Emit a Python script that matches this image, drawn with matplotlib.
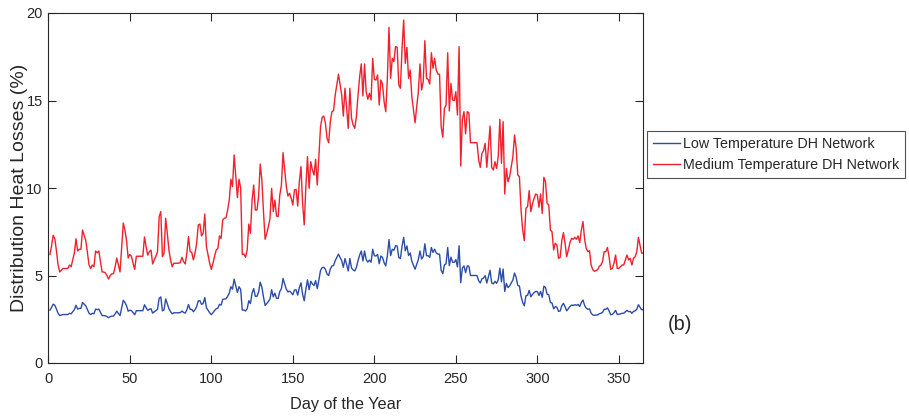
import matplotlib
matplotlib.use("Agg")
import matplotlib.pyplot as plt
from matplotlib import font_manager

# ---------------- data ----------------
days = list(range(1, 366))

medium_temp = [
    6.2, 6.7, 7.3, 7.1, 6.4, 5.6, 5.2, 5.3, 5.4, 5.4,
    5.4, 5.4, 5.6, 5.5, 5.9, 6.3, 7.1, 6.4, 6.5, 6.5,
    7.6, 7.3, 7.0, 6.3, 5.6, 5.4, 5.6, 5.5, 6.4, 6.3,
    6.4, 5.8, 5.2, 5.2, 5.15, 5.0, 4.8, 5.0, 5.1, 5.1,
    5.5, 6.0, 5.6, 5.2, 6.6, 8.0, 7.6, 7.0, 6.0, 6.2,
    6.1, 5.7, 5.35, 6.1, 6.1, 6.1, 6.1, 6.1, 7.2, 6.65,
    6.17, 6.36, 6.45, 5.66, 5.9, 6.1, 6.36, 8.36, 8.65, 6.08,
    6.27, 8.27, 7.4, 6.45, 5.89, 5.5, 5.7, 5.7, 5.7, 5.7,
    5.75, 6.04, 5.79, 5.66, 6.27, 7.22, 6.36, 6.32, 5.89, 6.27,
    6.84, 7.89, 7.94, 7.26, 7.41, 8.51, 6.65, 6.17, 5.7, 5.35,
    5.7, 6.11, 6.45, 6.55, 7.26, 7.12, 8.17, 8.27, 8.3, 8.74,
    9.31, 10.5, 10.08, 11.89, 10.65, 9.45, 10.5, 10.0, 6.2, 6.23,
    6.04, 6.46, 7.94, 7.41, 9.31, 10.17, 8.74, 8.74, 9.5, 11.37,
    10.46, 8.65, 7.07, 7.41, 7.79, 8.27, 9.98, 8.65, 9.31, 8.4,
    8.36, 9.6, 10.17, 12.02, 11.03, 10.08, 9.54, 9.7, 9.41, 9.03,
    9.89, 9.92, 8.97, 10.36, 11.22, 9.12, 7.89, 10.08, 11.79, 9.98,
    11.5, 11.03, 10.74, 11.64, 10.17, 11.79, 13.5, 14.04, 14.11, 13.7,
    12.84, 12.59, 13.79, 14.36, 14.42, 15.31, 15.89, 16.5, 15.9, 15.3,
    14.11, 15.7, 14.6, 13.41, 15.7, 13.98, 13.6, 13.41, 14.08, 15.31,
    16.36, 17.09, 15.26, 17.09, 15.5, 15.07, 15.41, 15.03, 17.41, 16.21,
    16.17, 16.46, 14.74, 16.17, 15.94, 14.93, 14.36, 16.27, 19.18, 16.27,
    17.41, 17.22, 18.08, 18.04, 15.89, 15.7, 17.98, 19.6, 17.12, 18.04,
    16.27, 16.74, 15.22, 14.46, 13.73, 14.65, 15.5, 17.09, 15.6, 16.08,
    18.42, 16.27, 16.21, 15.94, 17.73, 16.84, 17.41, 16.74, 16.51, 16.5,
    13.5, 12.9, 14.55, 14.74, 17.73, 14.4, 15.98, 15.03, 14.99, 15.5,
    14.17, 18.08, 11.26, 13.92, 14.36, 13.09, 14.36, 14.3, 12.59, 12.59,
    12.59, 12.59, 12.59, 11.6, 11.18, 11.98, 12.13, 12.55, 11.18, 12.36,
    13.54, 11.18, 11.03, 11.5, 11.12, 11.79, 13.92, 11.41, 13.79, 9.66,
    11.12, 10.36, 10.65, 11.22, 11.79, 13.03, 12.27, 10.74, 10.65, 8.74,
    7.6, 6.99, 8.84, 8.93, 9.85, 8.65, 9.09, 9.41, 9.66, 9.6,
    8.9, 9.66, 8.55, 10.61, 10.36, 9.12, 9.03, 7.6, 7.5, 6.46,
    6.84, 6.74, 5.98, 6.04, 6.99, 7.45, 6.84, 6.08, 6.46, 6.88,
    7.12, 7.07, 7.18, 7.07, 7.26, 6.88, 7.6, 8.08, 7.07, 6.55,
    6.36, 6.42, 5.6, 5.33, 5.24, 5.28, 5.33, 5.52, 5.6, 5.79,
    6.36, 6.36, 6.6, 6.08, 5.35, 5.41, 5.7, 6.17, 5.41, 5.41,
    5.5, 5.6, 5.6, 5.89, 6.17, 5.89, 5.98, 5.6, 5.98, 6.08,
    6.36, 7.18, 6.74, 6.27, 6.3,
]

low_temp = [
    3.02, 3.18, 3.36, 3.30, 3.08, 2.84, 2.71, 2.74, 2.77, 2.77,
    2.77, 2.77, 2.84, 2.81, 2.93, 3.05, 3.30, 3.08, 3.12, 3.12,
    3.46, 3.36, 3.27, 3.05, 2.84, 2.77, 2.84, 2.81, 3.08, 3.05,
    3.08, 2.90, 2.71, 2.71, 2.70, 2.65, 2.59, 2.65, 2.68, 2.68,
    2.81, 2.96, 2.84, 2.71, 3.15, 3.58, 3.46, 3.27, 2.96, 3.02,
    2.99, 2.87, 2.76, 2.99, 2.99, 2.99, 2.99, 2.99, 3.33, 3.16,
    3.01, 3.07, 3.10, 2.85, 2.93, 2.99, 3.07, 3.69, 3.78, 2.98,
    3.04, 3.66, 3.39, 3.10, 2.93, 2.81, 2.87, 2.87, 2.87, 2.87,
    2.88, 2.97, 2.89, 2.85, 3.04, 3.34, 3.07, 3.06, 2.93, 3.04,
    3.22, 3.55, 3.56, 3.35, 3.40, 3.74, 3.16, 3.01, 2.87, 2.76,
    2.87, 3.00, 3.10, 3.13, 3.35, 3.31, 3.63, 3.66, 3.67, 3.81,
    3.99, 4.36, 4.22, 4.79, 4.40, 4.03, 4.36, 4.20, 3.02, 3.03,
    2.97, 3.10, 3.56, 3.40, 3.99, 4.25, 3.81, 3.81, 4.05, 4.62,
    4.34, 3.78, 3.29, 3.40, 3.51, 3.66, 4.19, 3.78, 3.99, 3.70,
    3.69, 4.08, 4.25, 4.83, 4.52, 4.22, 4.06, 4.11, 4.02, 3.90,
    4.17, 4.18, 3.88, 4.31, 4.58, 3.93, 3.55, 4.22, 4.75, 4.19,
    4.67, 4.52, 4.43, 4.71, 4.25, 4.75, 5.29, 5.45, 5.47, 5.35,
    5.08, 5.00, 5.37, 5.55, 5.57, 5.85, 6.03, 6.22, 6.03, 5.84,
    5.47, 5.97, 5.63, 5.26, 5.97, 5.43, 5.32, 5.26, 5.46, 5.85,
    6.17, 6.40, 5.83, 6.40, 5.91, 5.77, 5.88, 5.76, 6.50, 6.13,
    6.11, 6.20, 5.67, 6.11, 6.04, 5.73, 5.55, 6.14, 7.05, 6.14,
    6.50, 6.44, 6.70, 6.69, 6.03, 5.97, 6.67, 7.18, 6.41, 6.69,
    6.14, 6.29, 5.82, 5.58, 5.36, 5.64, 5.91, 6.40, 5.94, 6.08,
    6.81, 6.14, 6.13, 6.04, 6.60, 6.32, 6.50, 6.29, 6.22, 6.22,
    5.29, 5.10, 5.61, 5.67, 6.60, 5.56, 6.05, 5.76, 5.75, 5.91,
    5.49, 6.70, 4.59, 5.42, 5.55, 5.16, 5.55, 5.53, 5.00, 5.00,
    5.00, 5.00, 5.00, 4.70, 4.57, 4.81, 4.86, 4.99, 4.57, 4.93,
    5.30, 4.57, 4.52, 4.67, 4.55, 4.75, 5.42, 4.64, 5.37, 4.09,
    4.55, 4.31, 4.40, 4.58, 4.75, 5.14, 4.90, 4.43, 4.40, 3.81,
    3.46, 3.27, 3.84, 3.87, 4.15, 3.78, 3.92, 4.02, 4.09, 4.08,
    3.86, 4.09, 3.75, 4.39, 4.31, 3.93, 3.90, 3.46, 3.43, 3.10,
    3.22, 3.19, 2.95, 2.97, 3.27, 3.41, 3.22, 2.98, 3.10, 3.23,
    3.31, 3.29, 3.33, 3.29, 3.35, 3.23, 3.46, 3.60, 3.29, 3.13,
    3.07, 3.09, 2.84, 2.75, 2.72, 2.74, 2.75, 2.81, 2.84, 2.89,
    3.07, 3.07, 3.15, 2.98, 2.76, 2.78, 2.87, 3.01, 2.78, 2.78,
    2.81, 2.84, 2.84, 2.93, 3.01, 2.93, 2.95, 2.84, 2.95, 2.98,
    3.07, 3.33, 3.19, 3.04, 3.05,
]

series_labels = ["Low Temperature DH Network", "Medium Temperature DH Network"]
x_ticks = [0, 50, 100, 150, 200, 250, 300, 350]
y_ticks = [0, 5, 10, 15, 20]

# ---------------- fonts ----------------
available = {f.name for f in font_manager.fontManager.ttflist}
if "Liberation Sans Narrow" in available:
    narrow = "Liberation Sans Narrow"
    scale = 1.0
else:
    narrow = "Liberation Sans"
    scale = 0.82
regular = "Liberation Sans"
txt_color = "#262626"

plt.rcParams["font.family"] = [narrow, "DejaVu Sans"]

fig = plt.figure(figsize=(9.09, 4.20), dpi=100)
fig.patch.set_facecolor("white")
ax = fig.add_axes([48.3 / 909, 57 / 420, 595 / 909, 350 / 420])

l1, = ax.plot(days, low_temp, color="#2c4ca8", lw=1.0, label=series_labels[0])
l2, = ax.plot(days, medium_temp, color="#f0202c", lw=1.0, label=series_labels[1])

ax.set_xlim(0, 365)
ax.set_ylim(0, 20)
ax.set_xticks(x_ticks)
ax.set_yticks(y_ticks)
ax.tick_params(direction="in", length=5.5, width=0.8, top=True, right=True,
               colors=txt_color, labelsize=12.9 * scale)
ax.tick_params(axis="x", pad=6.5)
ax.tick_params(axis="y", pad=4)
for sp in ax.spines.values():
    sp.set_color(txt_color)
    sp.set_linewidth(0.8)

ax.set_xlabel("Day of the Year", fontsize=14.3 * scale, color=txt_color, labelpad=8)
ax.set_ylabel("Distribution Heat Losses (%)", fontsize=14, color=txt_color,
              family=[regular, "DejaVu Sans"])
ax.yaxis.set_label_coords(-0.034, 0.5)

leg = fig.legend(handles=[l1, l2], loc="upper left",
                 bbox_to_anchor=(647 / 909, (420 - 131) / 420),
                 bbox_transform=fig.transFigure,
                 fontsize=12.5 * scale, frameon=True, fancybox=False,
                 edgecolor="#262626", borderaxespad=0, handlelength=1.9,
                 handletextpad=0.15, borderpad=0.45, labelspacing=0.45)
leg.get_frame().set_linewidth(0.8)
for t in leg.get_texts():
    t.set_color(txt_color)

fig.text(680 / 909, 1 - 325 / 420, "(b)", fontsize=17.5 * scale, color=txt_color,
         ha="center", va="center")

fig.savefig("out.png", dpi=100)
